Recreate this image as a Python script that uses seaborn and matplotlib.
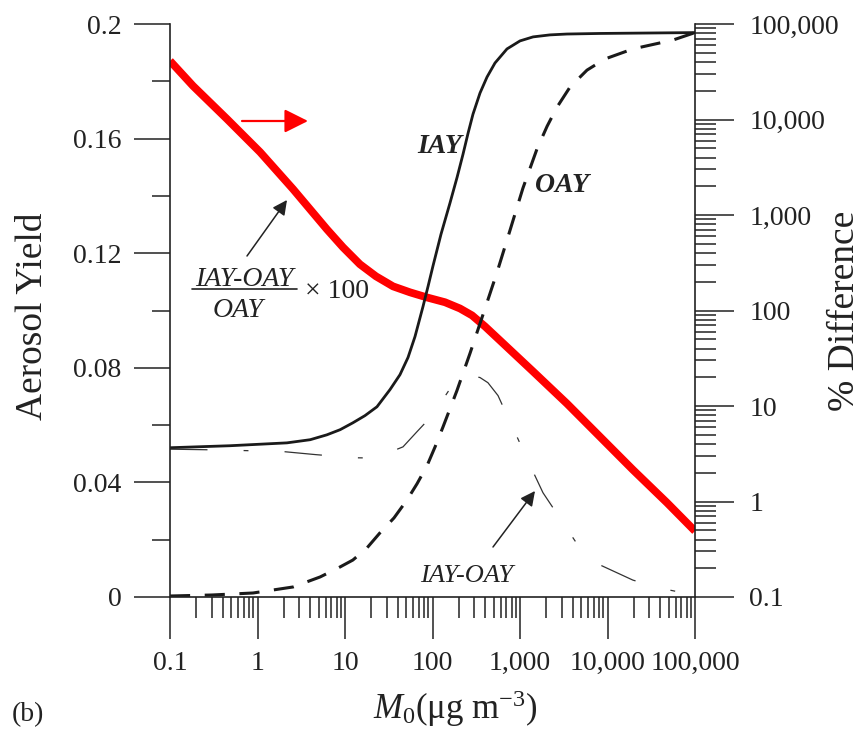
import numpy as np
import pandas as pd
import matplotlib
matplotlib.use("Agg")
import matplotlib.pyplot as plt
import seaborn as sns
from matplotlib.ticker import MultipleLocator, LogLocator, FuncFormatter, NullFormatter
from matplotlib.lines import Line2D

# ---------------- data ----------------
iay_m = [0.1, 0.485, 2.17, 4.0, 6.2, 8.8, 12.3, 16.9, 23.2, 32.7, 42.5, 52.5, 63.1, 77.9, 88.9,
         101, 125, 158, 191, 223, 255, 290, 349, 420, 518, 710, 1000, 1410, 2200, 3440, 8200, 100000]
iay_y = [0.0521, 0.0528, 0.0538, 0.0549, 0.0566, 0.0584, 0.0608, 0.0633, 0.0664, 0.0724, 0.0776, 0.0836,
         0.0909, 0.1014, 0.1084, 0.1154, 0.1266, 0.1374, 0.1465, 0.1545, 0.1619, 0.1685, 0.1759,
         0.1815, 0.1864, 0.1913, 0.1941, 0.1955, 0.1962, 0.1965, 0.1967, 0.197]

oay_m = [0.1, 0.302, 0.89, 2.55, 5.2, 8.32, 12.3, 17.8, 25.1, 36.3, 51.2, 66.5, 86.5, 107, 132, 190, 268,
         378, 546, 769, 1080, 1560, 2040, 2650, 3730, 5830, 9360, 19500, 56000, 100000]
oay_y = [0.00035, 0.0007, 0.0014, 0.0035, 0.007, 0.0101, 0.0129, 0.0171, 0.0224, 0.0276, 0.0339, 0.0395,
         0.0458, 0.0524, 0.0594, 0.072, 0.085, 0.0986, 0.1133, 0.128, 0.1427, 0.1563, 0.1643, 0.171,
         0.178, 0.1839, 0.1878, 0.1913, 0.1944, 0.197]

diff_m = [0.1, 0.26, 0.72, 1.9, 4.6, 12.7, 22, 46, 66.5, 94, 128.5, 170, 217, 275, 349, 430, 561, 730,
          925, 1170, 1830, 3100, 5250, 8200, 19500, 39800, 67000, 100000]
diff_y = [0.0516, 0.0514, 0.0511, 0.0508, 0.0497, 0.0486, 0.0485, 0.0524, 0.0577, 0.0626, 0.0685, 0.0741,
          0.0766, 0.0773, 0.0766, 0.0748, 0.0703, 0.0626, 0.0559, 0.049, 0.0364, 0.0259, 0.0154, 0.0112,
          0.0059, 0.0031, 0.0017, 0.001]

pct_m = [0.1, 0.183, 0.448, 1.07, 2.55, 6.2, 9.49, 14.8, 22.6, 35.4, 55.3, 86.5, 139, 206, 283, 398, 590,
         1410, 3440, 8200, 19500, 47900, 100000]
pct_y = [41100, 22500, 10120, 4560, 1866, 710, 459, 305, 228, 179, 155, 137, 122, 105, 88.9, 68.1, 48.6,
         23.0, 10.6, 4.77, 2.15, 0.97, 0.49]

# ---------------- style ----------------
sns.set_style("ticks")
plt.rcParams["font.family"] = ["Liberation Serif", "DejaVu Serif"]
plt.rcParams["mathtext.fontset"] = "custom"
plt.rcParams["mathtext.rm"] = "Liberation Serif"
plt.rcParams["mathtext.it"] = "Liberation Serif:italic"
plt.rcParams["mathtext.bf"] = "Liberation Serif:bold"
plt.rcParams["lines.scale_dashes"] = False

INK = "#222222"
W, H = 863, 730
fig = plt.figure(figsize=(W / 100, H / 100), dpi=100)
ax = fig.add_axes([170 / W, (H - 597) / H, 525 / W, 573 / H])
ax2 = ax.twinx()


def P(x, y):
    return (x / W, 1 - y / H)


# ---------------- lines ----------------
sns.lineplot(x=pct_m, y=pct_y, ax=ax2, color="#ff0000", lw=5.6, estimator=None, sort=False,
             solid_capstyle="butt")
sns.lineplot(x=iay_m, y=iay_y, ax=ax, color="#1a1a1a", lw=2.0, estimator=None, sort=False)
sns.lineplot(x=oay_m, y=oay_y, ax=ax, color="#1a1a1a", lw=2.2, estimator=None, sort=False,
             linestyle=(0, (14.5, 10.5)))
sns.lineplot(x=diff_m, y=diff_y, ax=ax, color="#333333", lw=0.9, estimator=None, sort=False,
             linestyle=(0, (27, 26, 3.5, 26)))

ax.set_zorder(ax2.get_zorder() + 1)
ax.patch.set_visible(False)


# ---------------- axes ----------------
def log_fmt(v, p):
    if v >= 1:
        return f"{v:,.0f}"
    return f"{v:g}"


ax.set_xscale("log")
ax.set_xlim(0.1, 1e5)
ax.set_ylim(0, 0.2)
ax.yaxis.set_major_locator(MultipleLocator(0.04))
ax.yaxis.set_minor_locator(MultipleLocator(0.02))
ax.yaxis.set_major_formatter(FuncFormatter(lambda v, p: "0" if abs(v) < 1e-9 else f"{v:.2f}".rstrip("0")))
ax.xaxis.set_major_locator(LogLocator(base=10, numticks=20))
ax.xaxis.set_minor_locator(LogLocator(base=10, subs=np.arange(2, 10), numticks=20))
ax.xaxis.set_major_formatter(FuncFormatter(log_fmt))
ax.xaxis.set_minor_formatter(NullFormatter())

ax2.set_yscale("log")
ax2.set_ylim(0.1, 1e5)
ax2.yaxis.set_major_locator(LogLocator(base=10, numticks=20))
ax2.yaxis.set_minor_locator(LogLocator(base=10, subs=np.arange(2, 10), numticks=20))
ax2.yaxis.set_major_formatter(FuncFormatter(log_fmt))
ax2.yaxis.set_minor_formatter(NullFormatter())

for s in ["top", "right"]:
    ax.spines[s].set_visible(False)
for s in ["top", "left", "bottom"]:
    ax2.spines[s].set_visible(False)
for a in (ax, ax2):
    for sp in a.spines.values():
        sp.set_color(INK)
        sp.set_linewidth(1.2)

ax.tick_params(axis="x", which="major", length=30, width=1.1, pad=9, labelsize=20, color=INK, labelcolor=INK)
ax.tick_params(axis="x", which="minor", length=15, width=1.1, color=INK)
ax.tick_params(axis="y", which="major", length=26, width=1.1, pad=9, labelsize=20, color=INK, labelcolor=INK)
ax.tick_params(axis="y", which="minor", length=13, width=1.1, color=INK)
ax2.tick_params(axis="y", which="major", length=28, width=1.1, pad=11, labelsize=20, color=INK, labelcolor=INK)
ax2.tick_params(axis="y", which="minor", length=15, width=1.1, color=INK)

ax.set_ylabel("Aerosol Yield", fontsize=27, color=INK)
ax.yaxis.set_label_coords(-0.229, 0.49)
ax2.set_ylabel("% Difference", fontsize=27, color=INK, rotation=90)
ax2.yaxis.set_label_coords(1.253, 0.5)
ax.set_xlabel(r"$M_0$(μg m$^{-3}$)", fontsize=25, color=INK, va="baseline")
ax.xaxis.set_label_coords(0.543, (597 - 719) / 573)

# ---------------- annotations ----------------
fig.text(*P(12, 721), "(b)", fontsize=20, color=INK, ha="left", va="baseline")
fig.text(*P(440, 153), "IAY", fontsize=20, fontstyle="italic", fontweight="bold", color=INK,
         ha="center", va="baseline")
fig.text(*P(562, 192), "OAY", fontsize=20, fontstyle="italic", fontweight="bold", color=INK,
         ha="center", va="baseline")
fig.text(*P(467, 582), "IAY-OAY", fontsize=19, fontstyle="italic", color=INK, ha="center", va="baseline")

fig.text(*P(244.5, 286), "IAY-OAY", fontsize=20, fontstyle="italic", color=INK, ha="center", va="baseline")
fig.add_artist(Line2D([192 / W, 297 / W], [1 - 289 / H, 1 - 289 / H], color=INK, lw=1.2,
                      transform=fig.transFigure))
fig.text(*P(238, 317), "OAY", fontsize=20, fontstyle="italic", color=INK, ha="center", va="baseline")
fig.text(*P(305, 298), "× 100", fontsize=20, color=INK, ha="left", va="baseline")

arrow_k = dict(arrowstyle="-|>", color=INK, lw=1.1, mutation_scale=22, shrinkA=0, shrinkB=0)
ax.annotate("", xy=P(287, 200), xytext=P(247, 256), xycoords="figure fraction",
            textcoords="figure fraction", arrowprops=arrow_k)
ax.annotate("", xy=P(535, 491), xytext=P(493, 547), xycoords="figure fraction",
            textcoords="figure fraction", arrowprops=arrow_k)
ax.annotate("", xy=P(308, 121), xytext=P(242, 121), xycoords="figure fraction",
            textcoords="figure fraction",
            arrowprops=dict(arrowstyle="-|>", color="#ff0000", lw=1.6, mutation_scale=36,
                            shrinkA=0, shrinkB=0))

fig.savefig("out.png", dpi=100, facecolor="white")
